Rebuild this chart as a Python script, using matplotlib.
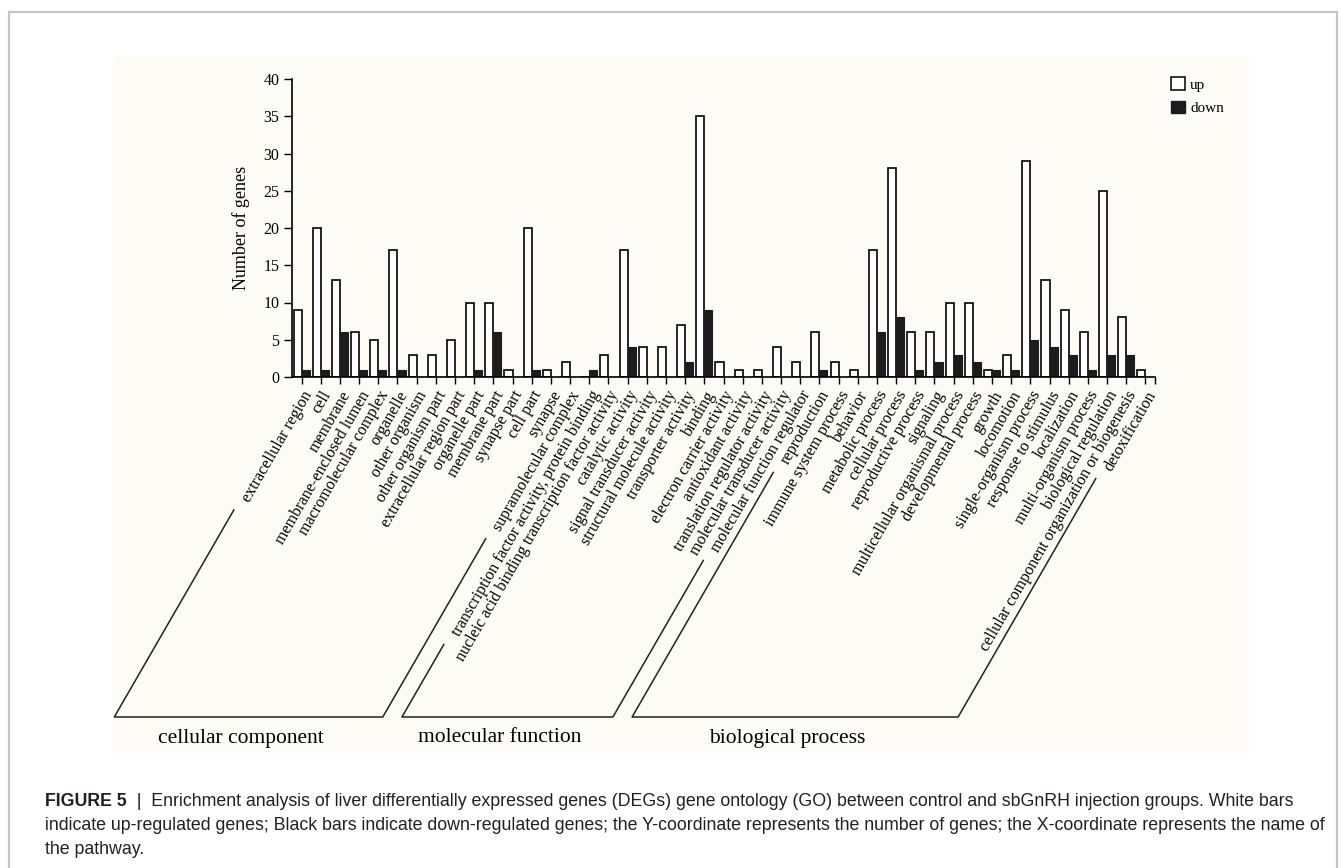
import numpy as np
import matplotlib
matplotlib.use('Agg')
import matplotlib.pyplot as plt
from matplotlib.patches import Rectangle, Patch
from matplotlib.lines import Line2D
from matplotlib.transforms import IdentityTransform
from matplotlib import font_manager

# GO terms, in plot order
terms = ['extracellular region', 'cell', 'membrane', 'membrane-enclosed lumen',
         'macromolecular complex', 'organelle', 'other organism', 'other organism part',
         'extracellular region part', 'organelle part', 'membrane part', 'synapse part',
         'cell part', 'synapse', 'supramolecular complex',
         'transcription factor activity, protein binding',
         'nucleic acid binding transcription factor activity', 'catalytic activity',
         'signal transducer activity', 'structural molecule activity', 'transporter activity',
         'binding', 'electron carrier activity', 'antioxidant activity',
         'translation regulator activity', 'molecular transducer activity',
         'molecular function regulator',
         'reproduction', 'immune system process', 'behavior', 'metabolic process',
         'cellular process', 'reproductive process', 'signaling',
         'multicellular organismal process', 'developmental process', 'growth', 'locomotion',
         'single-organism process', 'response to stimulus', 'localization',
         'multi-organism process', 'biological regulation',
         'cellular component organization or biogenesis', 'detoxification']
up = [9, 20, 13, 6, 5, 17, 3, 3, 5, 10, 10, 1, 20, 1, 2,
      0, 3, 17, 4, 4, 7, 35, 2, 1, 1, 4, 2,
      6, 2, 1, 17, 28, 6, 6, 10, 10, 1, 3, 29, 13, 9, 6, 25, 8, 1]
down = [1, 1, 6, 1, 1, 1, 0, 0, 0, 1, 6, 0, 1, 0, 0,
        1, 0, 4, 0, 0, 2, 9, 0, 0, 0, 0, 0,
        1, 0, 0, 6, 8, 1, 2, 3, 2, 1, 1, 5, 4, 3, 1, 3, 3, 0]
groups = ['cellular component', 'molecular function', 'biological process']
group_size = [15, 12, 18]

caption_bold = 'FIGURE 5'
caption = ['  |  Enrichment analysis of liver differentially expressed genes (DEGs) gene ontology (GO) '
           'between control and sbGnRH injection groups. White bars',
           'indicate up-regulated genes; Black bars indicate down-regulated genes; the Y-coordinate '
           'represents the number of genes; the X-coordinate represents the name of',
           'the pathway.']

plt.rcParams['font.family'] = ['Liberation Serif', 'DejaVu Serif']

names = {f.name for f in font_manager.fontManager.ttflist}
narrow = 'Liberation Sans Narrow' if 'Liberation Sans Narrow' in names else 'Liberation Sans'
cap_fs = 15.5 if narrow == 'Liberation Sans Narrow' else 12.8

W, H = 1341, 868
fig = plt.figure(figsize=(W / 100, H / 100), dpi=100)
fig.patch.set_facecolor('white')


def fx(px):
    return px / W


def fy(py):
    return 1 - py / H


# page frame and light panel behind the chart
fig.add_artist(Rectangle((fx(9), fy(880)), fx(1337 - 9), (880 - 12) / H,
                         transform=fig.transFigure, fill=False, ec='#c4c4c4', lw=1.6))
fig.add_artist(Rectangle((fx(114), fy(753)), fx(1249 - 114), (753 - 58) / H,
                         transform=fig.transFigure, fc='#fcfbf6', ec='none', zorder=0))

ax = fig.add_axes([fx(292), fy(377), fx(1155 - 292), (377 - 79) / H])
ax.set_facecolor('none')

x = np.arange(len(terms))
w = 0.42
ax.bar(x - w / 2, up, w, color='white', edgecolor='black', linewidth=1.2, zorder=2)
ax.bar(x + w / 2, down, w, color='#1c1c1c', edgecolor='#1c1c1c', linewidth=0.8, zorder=2)

ax.set_xlim(-0.5, len(terms) - 0.5)
ax.set_ylim(0, 40)
ax.set_yticks(np.arange(0, 41, 5))
ax.set_xticks(x)
ax.set_xticks([len(terms) - 0.5], minor=True)
ax.set_xticklabels(terms, rotation=60, ha='right', va='top', rotation_mode='anchor', fontsize=11.6)
for s in ['top', 'right']:
    ax.spines[s].set_visible(False)
for s in ['left', 'bottom']:
    ax.spines[s].set_linewidth(1.2)
ax.tick_params(axis='y', direction='out', length=6, width=1, labelsize=11.5, pad=3)
ax.tick_params(axis='x', which='both', direction='out', length=5, width=1, pad=3)
ax.set_ylabel('Number of genes', fontsize=13, labelpad=10)

fig.legend(handles=[Patch(fc='white', ec='black', lw=1.1), Patch(fc='#1c1c1c', ec='#1c1c1c')],
           labels=['up', 'down'], loc='upper left', bbox_to_anchor=(fx(1171), fy(77)),
           frameon=False, fontsize=11, handlelength=0.9, handleheight=0.9,
           handletextpad=0.35, labelspacing=0.6, borderpad=0, borderaxespad=0)

fig.canvas.draw()
renderer = fig.canvas.get_renderer()

# group brackets along the slanted labels
labels = ax.get_xticklabels()
tan60 = np.tan(np.radians(60))
y_axis = ax.transData.transform((0, 0))[1]
y_bot = H - 717


def line_x(i, y):
    xt = ax.transData.transform((i, 0))[0] + 9
    return xt - (y_axis - y) / tan60


start = 0
for g, n in zip(groups, group_size):
    i0, i1 = start, start + n - 1
    t0 = labels[i0].get_window_extent(renderer).y0 - 5
    t1 = labels[i1].get_window_extent(renderer).y0 - 5
    xs = [line_x(i0, t0), line_x(i0, y_bot), line_x(i1, y_bot), line_x(i1, t1)]
    ys = [t0, y_bot, y_bot, t1]
    fig.add_artist(Line2D(xs, ys, transform=IdentityTransform(), color='#222222', lw=1.1))
    fig.text(fx((xs[1] + xs[2]) / 2 - 8), fy(738), g, ha='center', va='center', fontsize=15.5)
    start += n

# caption
cy = [802, 826, 850]
tb = fig.text(fx(45), fy(cy[0]), caption_bold, family=narrow, weight='bold',
              fontsize=cap_fs, va='center', color='#231f20')
fig.canvas.draw()
bb = tb.get_window_extent(renderer)
fig.text(fx(bb.x1), fy(cy[0]), caption[0], family=narrow, fontsize=cap_fs, va='center', color='#231f20')
for line, yy in zip(caption[1:], cy[1:]):
    fig.text(fx(45), fy(yy), line, family=narrow, fontsize=cap_fs, va='center', color='#231f20')

fig.savefig('out.png', dpi=100, facecolor='white')
